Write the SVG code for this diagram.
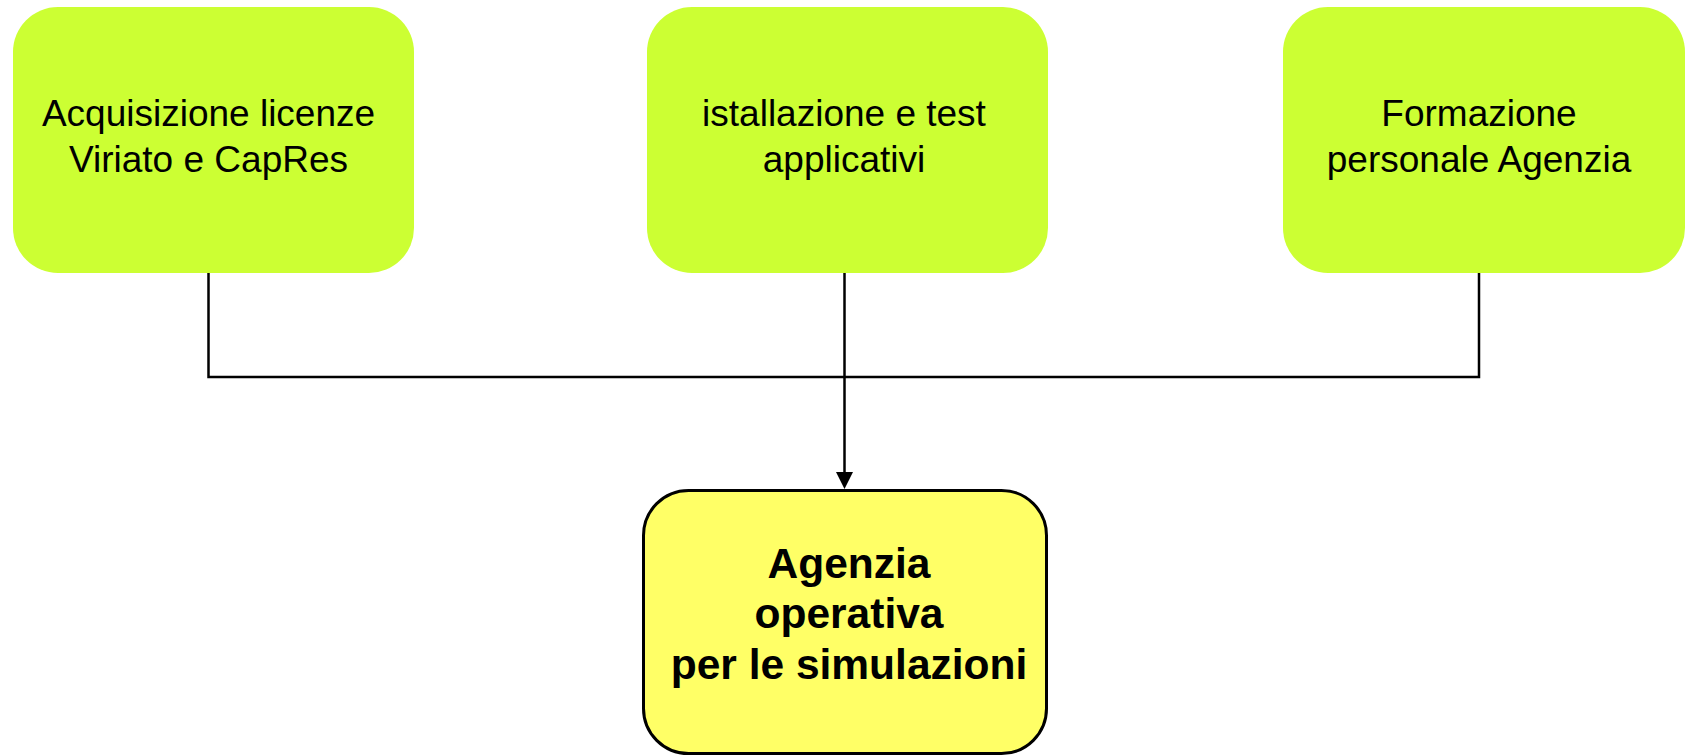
<svg xmlns="http://www.w3.org/2000/svg" width="1686" height="755" viewBox="0 0 1686 755">
<style>
.box{fill:#CCFF33;stroke:none}
.final{fill:#FFFF66;stroke:#000;stroke-width:3}
.t{font-family:"Liberation Sans",Arial,sans-serif;font-size:37px;fill:#000;text-anchor:middle}
.b{font-family:"Liberation Sans",Arial,sans-serif;font-size:42.5px;font-weight:bold;fill:#000;text-anchor:middle}
.c{fill:none;stroke:#000;stroke-width:2.5}
.ah{fill:#000}
</style>
<rect width="1686" height="755" fill="#fff"/>
<g id="connectors">
<path class="c" d="M208.5,265 V377 H1479 V265"/>
<path class="c" d="M844.5,264 V474"/>
<path class="ah" d="M836,472 L853,472 L844.5,489 Z"/>
</g>
<g id="node-acquisizione">
<rect class="box" x="13" y="7" width="401" height="266" rx="45" ry="45"/>
<text class="t" x="208.5" y="126">Acquisizione licenze</text>
<text class="t" x="208.5" y="172">Viriato e CapRes</text>
</g>
<g id="node-installazione">
<rect class="box" x="647" y="7" width="401" height="266" rx="45" ry="45"/>
<text class="t" x="844" y="126">istallazione e test</text>
<text class="t" x="844" y="172">applicativi</text>
</g>
<g id="node-formazione">
<rect class="box" x="1283" y="7" width="402" height="266" rx="45" ry="45"/>
<text class="t" x="1479" y="126">Formazione</text>
<text class="t" x="1479" y="172">personale Agenzia</text>
</g>
<g id="node-agenzia">
<rect class="final" x="643.5" y="490.5" width="403" height="263" rx="45" ry="45"/>
<text class="b" x="849" y="578">Agenzia</text>
<text class="b" x="849" y="628">operativa</text>
<text class="b" x="849" y="679">per le simulazioni</text>
</g>
</svg>
